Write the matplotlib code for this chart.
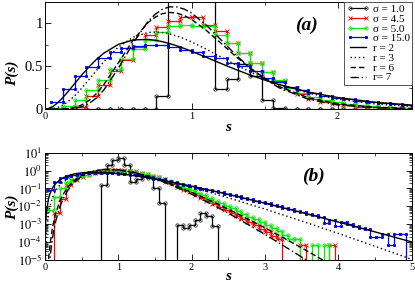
import numpy as np
import matplotlib
matplotlib.use('Agg')
from matplotlib import pyplot as plt
from matplotlib.lines import Line2D
from matplotlib.ticker import MultipleLocator, LogLocator, NullFormatter, FixedLocator

plt.rcParams['font.family'] = ['Liberation Serif', 'DejaVu Serif']
plt.rcParams['mathtext.fontset'] = 'stix'

# histogram bins: left edge of first bin and bin width
first_edge = 0.04
bin_width = 0.08

sigma_1_0 = [0, 0, 0, 0, 0, 0, 0, 0, 0, 0.15, 2.0, 3.9, 4.8, 2.0, 0.23, 0.35, 0.52, 0.38,
             0.105, 0.015, 0, 0, 9e-4, 6e-4, 9e-4, 1.8e-3, 4.5e-3, 3e-3, 8e-4, 0, 0, 0]
sigma_4_5 = [0, 0.004, 0.025, 0.15, 0.28, 0.44, 0.57, 0.72, 0.86, 0.96, 1.03, 1.07, 1.07,
             0.98, 0.91, 0.77, 0.65, 0.53, 0.43, 0.33, 0.24, 0.17, 0.12, 0.085, 0.06, 0.042,
             0.029, 0.020, 0.0135, 0.0092, 0.0063, 0.0043, 0.0029, 0.0019, 0.0013, 8.5e-4,
             5.6e-4, 3.7e-4, 2.2e-4, 1.5e-4, 0, 0, 0, 7e-5, 0, 0, 0, 0, 7e-5, 0]
sigma_5_0 = [0.006, 0.035, 0.11, 0.22, 0.34, 0.47, 0.58, 0.70, 0.80, 0.90, 0.97, 0.98, 0.97,
             0.97, 0.86, 0.77, 0.65, 0.53, 0.43, 0.34, 0.25, 0.19, 0.14, 0.105, 0.08, 0.058,
             0.042, 0.030, 0.021, 0.0155, 0.011, 0.0078, 0.0055, 0.0038, 0.0027, 0.0019,
             0.0013, 9e-4, 6e-4, 4e-4, 2.5e-4, 1.5e-4, 1.5e-4, 0, 0, 7e-5, 0, 7e-5, 0]
sigma_15_0 = [0.086, 0.23, 0.38, 0.49, 0.59, 0.66, 0.71, 0.73, 0.74, 0.74, 0.72, 0.69, 0.66,
              0.62, 0.59, 0.54, 0.50, 0.445, 0.36, 0.32, 0.26, 0.22, 0.185, 0.155, 0.13, 0.112,
              0.096, 0.082, 0.070, 0.060, 0.050, 0.042, 0.036, 0.030, 0.0252, 0.0210, 0.0175,
              0.0146, 0.0121, 0.0100, 0.0083, 0.0068, 0.0056, 0.0046, 0.0038, 0.0031, 0.0026,
              0.0011, 0.0018, 0.0008, 0.0013, 0.0010, 0.0008, 0.00065, 0.00052, 0.0002,
              0.0002, 0.0003, 0.00007, 0.0003, 0.0003, 0]

# theory curves, read at these s values
curve_s = [0, 0.001, 0.003, 0.005, 0.01, 0.02, 0.05, 0.07, 0.1, 0.12, 0.15, 0.2, 0.25, 0.3,
           0.35, 0.4, 0.5, 0.6, 0.7, 0.75, 0.8, 0.85, 0.9, 0.95, 1.0, 1.1, 1.2, 1.3, 1.4, 1.5,
           1.6, 1.8, 2.0, 2.25, 2.5, 3.0, 3.5, 4.0, 4.5, 5.0]
curve_r2 = [0, 1.35e-5, 1.2e-4, 3.32e-4, 1.31e-3, 5.09e-3, 0.02905, 0.0536, 0.1000, 0.1356,
            0.1937, 0.2964, 0.3986, 0.4940, 0.5787, 0.6506, 0.7531, 0.8034, 0.8101, 0.8004,
            0.7838, 0.7616, 0.7349, 0.7047, 0.6721, 0.6024, 0.5311, 0.4618, 0.3969, 0.3375,
            0.2844, 0.1976, 0.1339, 0.0800, 0.04667, 0.01499, 4.554e-3, 1.327e-3, 3.748e-4,
            1.032e-4]
curve_r3 = [0, 0, 1.15e-6, 5.2e-6, 4.1e-5, 3.151e-4, 4.366e-3, 0.01106, 0.02860, 0.04562,
            0.07903, 0.1534, 0.2453, 0.3470, 0.4511, 0.5513, 0.7218, 0.8361, 0.8899, 0.8962,
            0.8904, 0.8744, 0.8498, 0.8184, 0.7815, 0.6973, 0.6068, 0.5172, 0.4330, 0.3570,
            0.2904, 0.1858, 0.1145, 0.05998, 0.03027, 7.078e-3, 1.521e-3, 3.072e-4, 5.921e-5,
            1.099e-5]
curve_r6 = [0, 0, 0, 0, 0, 0, 1.26e-5, 8.24e-5, 5.68e-4, 1.475e-3, 4.56e-3, 0.01805, 0.04857,
            0.1021, 0.1815, 0.2850, 0.5401, 0.8008, 1.002, 1.068, 1.109, 1.124, 1.116, 1.088,
            1.043, 0.9173, 0.7683, 0.6163, 0.4774, 0.3586, 0.2622, 0.1312, 0.0608, 0.02145,
            7.005e-3, 6.32e-4, 4.82e-5, 3.2e-6, 2e-7, 1.1e-8]
curve_r7 = [0, 0, 0, 0, 0, 0, 1.74e-6, 1.57e-5, 1.50e-4, 4.57e-4, 1.713e-3, 8.60e-3, 0.02753,
            0.06602, 0.1303, 0.2225, 0.4766, 0.7677, 1.014, 1.101, 1.160, 1.189, 1.188, 1.163,
            1.117, 0.9777, 0.8080, 0.6356, 0.4796, 0.3495, 0.2466, 0.1136, 0.04792, 0.01481,
            4.182e-3, 2.75e-4, 1.48e-5, 6.9e-7, 2.9e-8, 1.1e-9]

hist_series = [
    ('σ = 1.0', sigma_1_0, dict(color='black', marker='o', mfc='none', mec='#333333', ms=2.4)),
    ('σ = 4.5', sigma_4_5, dict(color='red', marker='x', mec='red', ms=2.4)),
    ('σ = 5.0', sigma_5_0, dict(color='#00ee00', marker='o', mfc='none', mec='#00ee00', ms=2.4)),
    ('σ = 15.0', sigma_15_0, dict(color='blue', marker='s', mfc='blue', mec='blue', ms=1.7)),
]
curve_series = [
    ('r = 2', curve_r2, '-'),
    ('r = 3', curve_r3, (0, (1, 2))),
    ('r = 6', curve_r6, (0, (4, 2))),
    ('r= 7', curve_r7, (0, (6, 2, 1, 2))),
]


def steps(values):
    edges = first_edge + bin_width * np.arange(len(values) + 1)
    xs = np.repeat(edges, 2)[1:-1]
    ys = np.repeat(np.asarray(values, dtype=float), 2)
    return xs, ys


fig = plt.figure(figsize=(4.15, 2.83), dpi=100)
ax_a = fig.add_axes([0.1096, 0.6148, 0.8832, 0.378])
ax_b = fig.add_axes([0.1084, 0.0813, 0.8832, 0.3791])

for ax in (ax_a, ax_b):
    for name, values, style in curve_series:
        ax.plot(curve_s, values, color='black', linestyle=style, linewidth=1.0, zorder=3)
    for name, values, style in hist_series:
        xs, ys = steps(values)
        ax.plot(xs, ys, linewidth=0.9, markeredgewidth=0.6, zorder=2, **style)
    ax.tick_params(which='both', direction='in', top=True, right=True)
    ax.tick_params(which='major', length=4, width=0.6)
    ax.tick_params(which='minor', length=2.2, width=0.5)
    for sp in ax.spines.values():
        sp.set_linewidth(0.7)

ax_a.set_xlim(0, 2.51)
ax_a.set_ylim(0, 1.245)
ax_a.xaxis.set_major_locator(MultipleLocator(1))
ax_a.xaxis.set_minor_locator(MultipleLocator(0.5))
ax_a.yaxis.set_major_locator(FixedLocator([0, 0.5, 1]))
ax_a.yaxis.set_minor_locator(MultipleLocator(0.25))
ax_a.set_yticklabels(['0', '0.5', '1'])
ax_a.tick_params(axis='x', labelsize=7.5, pad=2)
ax_a.tick_params(axis='y', labelsize=10.5, pad=2)

ax_b.set_yscale('log')
ax_b.set_xlim(0, 5)
ax_b.set_ylim(1e-5, 10)
ax_b.xaxis.set_major_locator(MultipleLocator(1))
ax_b.xaxis.set_minor_locator(MultipleLocator(0.5))
ax_b.yaxis.set_major_locator(FixedLocator([1e-5, 1e-4, 1e-3, 1e-2, 1e-1, 1, 10]))
ax_b.set_yticklabels([r'$10^{-5}$', r'$10^{-4}$', r'$10^{-3}$', r'$10^{-2}$',
                      r'$10^{-1}$', r'$10^{0}$', r'$10^{1}$'])
ax_b.yaxis.set_minor_locator(LogLocator(base=10, subs=np.arange(2, 10), numticks=20))
ax_b.yaxis.set_minor_formatter(NullFormatter())
ax_b.tick_params(axis='x', labelsize=7.5, pad=2)
ax_b.tick_params(axis='y', labelsize=9, pad=2)

label_font = dict(fontsize=11, fontweight='bold', fontstyle='italic')
fig.text(12 / 415, 1 - 73 / 283, 'P(s)', rotation=90, ha='center', va='center', **label_font)
fig.text(12 / 415, 1 - 207 / 283, 'P(s)', rotation=90, ha='center', va='center', **label_font)
fig.text(228 / 415, 1 - 127 / 283, 's', ha='center', va='center', **label_font)
fig.text(228 / 415, 1 - 276 / 283, 's', ha='center', va='center', **label_font)
fig.text(306 / 415, 1 - 25 / 283, '(a)', ha='center', va='center', fontsize=14,
         fontweight='bold', fontstyle='italic')
fig.text(313 / 415, 1 - 176 / 283, '(b)', ha='center', va='center', fontsize=14,
         fontweight='bold', fontstyle='italic')

handles = []
for name, values, style in hist_series:
    handles.append(Line2D([], [], linewidth=0.9, markeredgewidth=0.6, label=name, **style))
for name, values, style in curve_series:
    handles.append(Line2D([], [], color='black', linestyle=style, linewidth=1.0, label=name))
leg = ax_a.legend(handles=handles, loc='upper right', fontsize=8, numpoints=2,
                  handlelength=2.0, handletextpad=0.35, labelspacing=0.0, borderpad=0.2,
                  borderaxespad=0, fancybox=False, framealpha=1, edgecolor='#555555')
leg.get_frame().set_linewidth(0.7)

fig.savefig('out.png', dpi=100)
